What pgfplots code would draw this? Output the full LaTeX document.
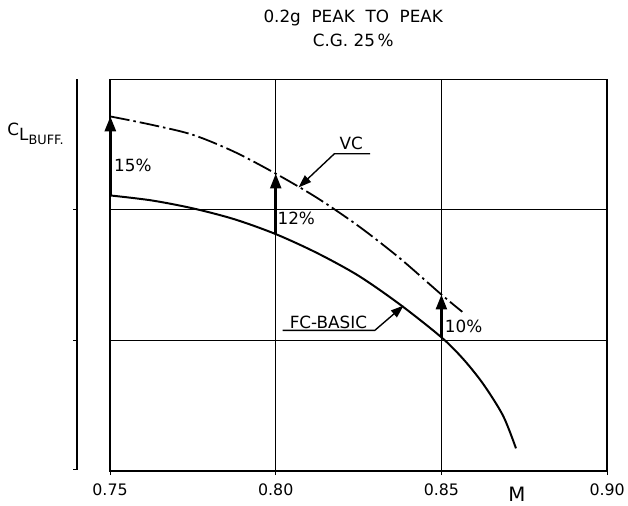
\documentclass[border=0pt]{standalone}
\usepackage{fontspec}
\setmainfont{DejaVu Sans}
\usepackage{pgfplots}
\pgfplotsset{compat=1.18}
\usetikzlibrary{arrows.meta}

\begin{document}
\begin{tikzpicture}
\begin{axis}[
  scale only axis,
  width=501bp, height=395bp,
  xmin=0.75, xmax=0.90, ymin=0, ymax=3,
  xtick={0.75,0.80,0.85,0.90},
  xticklabels={0.75,0.80,0.85,0.90},
  ytick={1,2}, yticklabels={},
  grid=major,
  major grid style={black, line width=1bp},
  axis line style={black, line width=1.2bp},
  tick align=outside,
  xtick pos=left,
  major tick length=4bp,
  x tick style={black, line width=1bp},
  y tick style={draw=none},
  xticklabel style={font=\fontsize{16}{16}\selectfont, yshift=-5bp},
  /pgf/number format/assume math mode=true,
  clip=false,
  font=\fontsize{17}{17}\selectfont,
]
% heavy bottom and right borders
\draw[black, line width=2.4bp] (rel axis cs:0,0) -- (rel axis cs:1,0);
\draw[black, line width=2.2bp] (rel axis cs:1,0) -- (rel axis cs:1,1);

% FC-BASIC
\addplot[black, line width=2bp, smooth] coordinates {
  (0.75,2.111) (0.7625,2.073) (0.775,2.012) (0.7875,1.929) (0.80,1.815)
  (0.8125,1.670) (0.825,1.496) (0.8375,1.276) (0.85,1.025) (0.8566,0.858)
  (0.8626,0.668) (0.8686,0.425) (0.8725,0.175)
};
% VC
\addplot[black, line width=1.8bp, smooth,
  dash pattern=on 20bp off 4bp on 2.5bp off 4bp] coordinates {
  (0.75,2.716) (0.7625,2.652) (0.775,2.575) (0.7875,2.445) (0.80,2.278)
  (0.8125,2.092) (0.825,1.876) (0.8375,1.629) (0.85,1.352) (0.8563,1.22)
};

\node[anchor=west, inner sep=0] at (axis cs:0.7512,2.342) {15\%};
\node[anchor=west, inner sep=0] at (axis cs:0.8005,1.936) {12\%};
\node[anchor=west, inner sep=0] at (axis cs:0.851,1.105) {10\%};

% leaders
\draw[black, line width=1.4bp, -{Triangle[width=9bp,length=13bp]}]
  (axis cs:0.8285,2.430) -- (axis cs:0.8177,2.430) -- (axis cs:0.8069,2.172);
\node at (axis cs:0.8228,2.513) {VC};
\draw[black, line width=1.4bp, -{Triangle[width=9bp,length=13bp]}]
  (axis cs:0.8021,1.078) -- (axis cs:0.8299,1.078) -- (axis cs:0.8386,1.268);
\node at (axis cs:0.8159,1.139) {FC-BASIC};

% separate ordinate line
\draw[black, line width=1.6bp] (axis cs:0.7401,3.0) -- (axis cs:0.7401,0.01);
\draw[black, line width=1bp] (axis cs:0.7401,2) -- (axis cs:0.7389,2);
\draw[black, line width=1bp] (axis cs:0.7401,1) -- (axis cs:0.7389,1);
\draw[black, line width=1bp] (axis cs:0.7401,0.01) -- (axis cs:0.7389,0.01);
\node[anchor=west, inner sep=0] at (axis cs:0.7190,2.58)
  {C\raisebox{-5bp}{L\raisebox{-4bp}{\fontsize{13}{13}\selectfont BUFF.}}};

% titles and axis name
\node at (axis cs:0.8234,3.47) {0.2g\ \ PEAK\ \ TO\ \ PEAK};
\node at (axis cs:0.8234,3.295) {C.G.\ 25\,\%};
\node[font=\fontsize{20}{20}\selectfont] at (axis cs:0.8728,-0.175) {M};

% increments
\addplot[black, line width=2.8bp, -{Triangle[width=11bp,length=15bp]}]
  coordinates {(0.7501,2.111) (0.7501,2.716)};
\addplot[black, line width=2.6bp, -{Triangle[width=11bp,length=15bp]}]
  coordinates {(0.80,1.815) (0.80,2.278)};
\addplot[black, line width=2.6bp, -{Triangle[width=11bp,length=15bp]}]
  coordinates {(0.85,1.025) (0.85,1.352)};

\path (axis cs:0.7168,-0.266) rectangle (axis cs:0.9048,3.607);
\end{axis}
\end{tikzpicture}
\end{document}
